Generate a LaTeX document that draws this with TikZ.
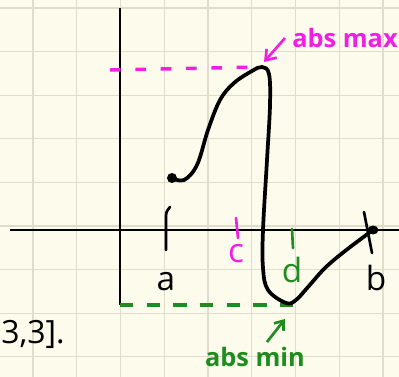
\documentclass[tikz,border=0pt]{standalone}
\usepackage{fontspec}
\setmainfont{Open Sans}
\usetikzlibrary{arrows.meta, positioning}

\definecolor{paper}{HTML}{FDFBEC}
\definecolor{gridcol}{HTML}{E2DDCB}
\definecolor{maxcol}{HTML}{F01EE6}
\definecolor{mincol}{HTML}{1E8C1E}

\begin{document}
\begin{tikzpicture}[x=0.75pt, y=-0.75pt,
  gridline/.style={gridcol, line width=1pt},
  axis/.style={line width=2pt},
  curve/.style={line width=2.8pt, line cap=round, line join=round},
  tick/.style={line width=2pt, line cap=round},
  maxline/.style={maxcol, line width=2.6pt, dash pattern=on 8pt off 11pt},
  minline/.style={mincol, line width=2.6pt, dash pattern=on 10pt off 10pt},
  lbl/.style={inner sep=0pt, font=\fontsize{25}{28}\selectfont},
  note/.style={inner sep=0pt, font=\bfseries\fontsize{19}{22}\selectfont}]
\useasboundingbox[fill=paper] (0,0) rectangle (399,377);

% squared paper
\foreach \i in {0,...,8} {
  \draw[gridline] ({33+43.75*\i},0) -- ({33+43.75*\i},377);
  \draw[gridline] (0,{8+43.6*\i}) -- (399,{8+43.6*\i});
}

% axes
\coordinate (ytop) at (120,8);
\coordinate (ybot) at (120,305);
\coordinate (xleft) at (10,230);
\coordinate (xright) at (399,230);
\draw[axis] (ytop) -- (ybot);
\draw[axis] (xleft) -- (xright);

% points on the graph
\coordinate (start) at (172,178);
\coordinate (peak) at (262,67);
\coordinate (bottom) at (286,303);
\coordinate (bend) at (373,230);

% dashed levels
\draw[maxline] (110,70) -- (peak);
\draw[minline] (ybot) -- (297,305);

% ticks
\draw[tick] (170,207) .. controls (166,212) .. (166,220) -- (166,250);
\draw[tick, maxcol] (236,218) -- (238,238);
\draw[tick, mincol] (292,229) -- (293,248);
\draw[tick] (364,212) -- (372,253);

% the function
\draw[curve] plot[smooth, tension=0.6] coordinates {(start) (184,180) (197,165)
  (208,130) (220,100) (234,83) (252,71) (peak) (269,74) (270,105) (267,160)
  (263,230) (263,268) (268,290) (bottom) (296,300) (308,287) (325,268) (345,251)
  (bend)};
\fill (start) circle (5);
\fill (bend) ellipse (5.5 and 4.5);

% labels
\node[lbl] (la) at (166,282) {a};
\node[lbl, maxcol] (lc) at (236,254) {c};
\node[lbl, mincol] (ld) at (292,270) {d};
\node[lbl] (lb) at (376,278) {b};
\node[note, maxcol] (absmax) at (345,38) {abs max};
\node[note, mincol] (absmin) at (255,357) {abs min};
\node[note, anchor=west, font=\fontsize{24}{26}\selectfont] (interval) at (1,334) {3,3].};

% arrows to the extremes
\coordinate (maxtip) at (264,62);
\coordinate (mintip) at (285,319);
\draw[maxcol, line width=2pt, -{Straight Barb[length=7pt, width=10pt]}] (285,38) -- (maxtip);
\draw[mincol, line width=2pt, -{Straight Barb[length=6pt, width=9pt]}] (267,342) -- (mintip);
\end{tikzpicture}
\end{document}
